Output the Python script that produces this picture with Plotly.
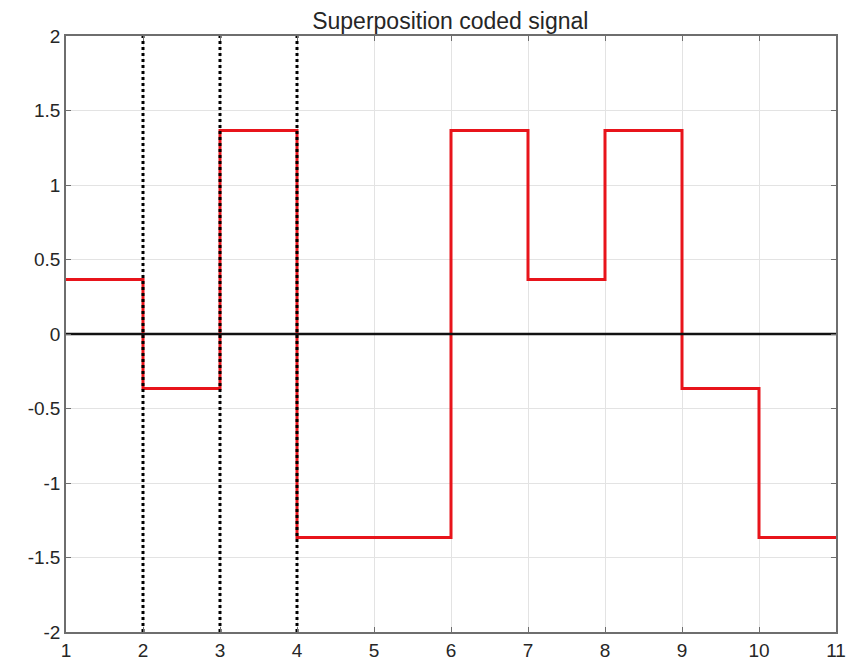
import plotly.graph_objects as go

x_steps = [1, 2, 3, 4, 5, 6, 7, 8, 9, 10, 11]
signal = [0.366, -0.366, 1.366, -1.366, -1.366, 1.366, 0.366, 1.366, -0.366, -1.366, -1.366]
marker_x = [2, 3, 4]
x_ticks = list(range(1, 12))
y_ticks = [-2, -1.5, -1, -0.5, 0, 0.5, 1, 1.5, 2]
y_tick_text = ["-2", "-1.5", "-1", "-0.5", "0", "0.5", "1", "1.5", "2"]

fig = go.Figure()
fig.add_trace(go.Scatter(x=x_steps, y=signal, mode="lines", line_shape="hv",
                         line=dict(color="#e8141b", width=3), showlegend=False))
fig.add_trace(go.Scatter(x=[x_steps[0], x_steps[-1]], y=[0, 0], mode="lines",
                         line=dict(color="#111111", width=2.5), showlegend=False))
for mx in marker_x:
    fig.add_trace(go.Scatter(x=[mx, mx], y=[-2, 2], mode="lines",
                             line=dict(color="#000000", width=3, dash="dot"), showlegend=False))

axis_common = dict(showgrid=True, gridcolor="#e3e3e3", gridwidth=1,
                   showline=True, linecolor="#6e6e6e", linewidth=1.5, mirror="ticks",
                   ticks="inside", ticklen=5, tickcolor="#6e6e6e", zeroline=False, automargin=False,
                   tickfont=dict(family="Liberation Sans, Arial, sans-serif", size=19, color="#262626"))
fig.update_xaxes(range=[1, 11], tickvals=x_ticks, **axis_common)
fig.update_yaxes(range=[-2, 2], tickvals=y_ticks, ticktext=y_tick_text, **axis_common)

fig.update_layout(
    width=848, height=668,
    margin=dict(l=66, r=12, t=36, b=36, autoexpand=False),
    paper_bgcolor="white", plot_bgcolor="white",
    title=dict(text="Superposition coded signal", x=0.531, xanchor="center",
               yref="paper", y=1, yanchor="bottom", pad=dict(b=7),
               font=dict(family="Liberation Sans, Arial, sans-serif", size=23, color="#262626")),
)
fig.write_html("out.html")
